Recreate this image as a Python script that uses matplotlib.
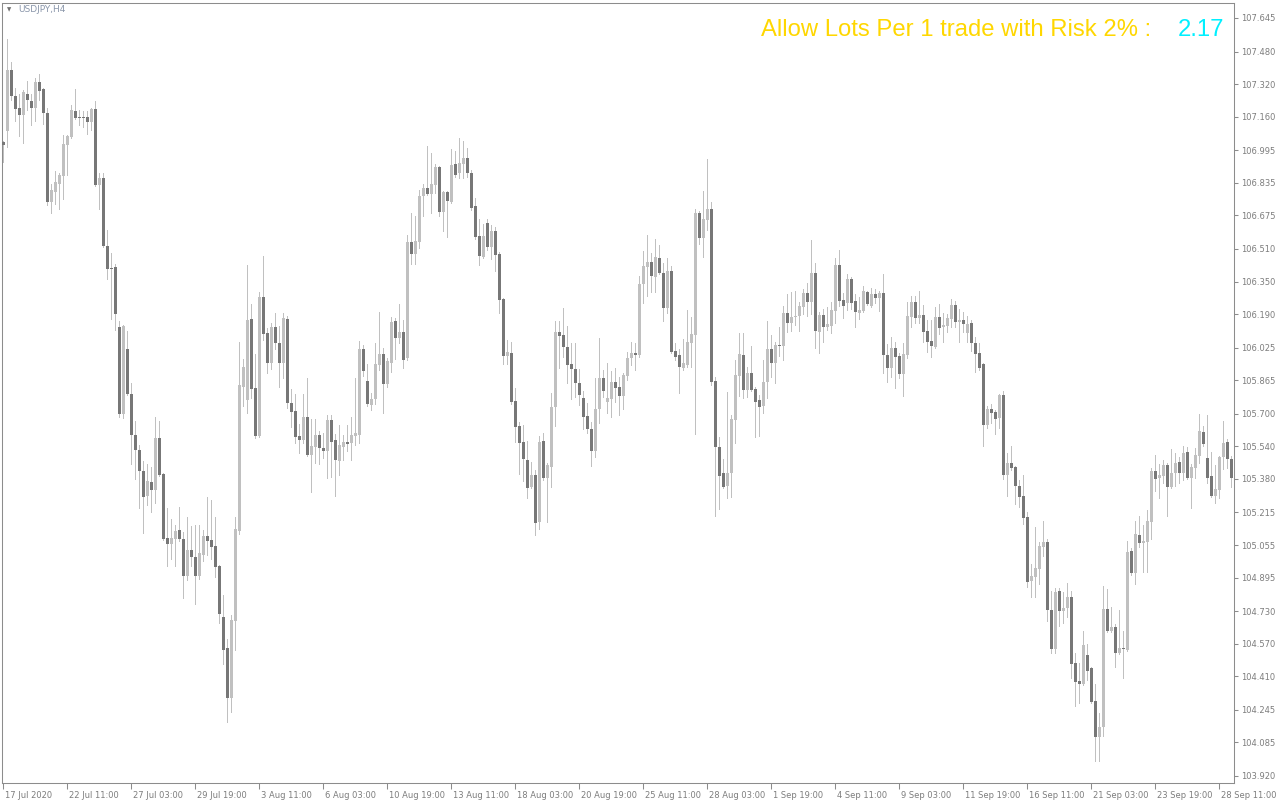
import matplotlib
matplotlib.use("Agg")
import matplotlib.pyplot as plt
import matplotlib.transforms as mtransforms

# USDJPY H4 candles (oldest first)
opens = [
    107.036, 107.090, 107.390, 107.262, 107.203, 107.168, 107.272, 107.237, 107.203, 107.330,
    107.296, 107.178, 106.741, 106.790, 106.829, 106.869, 107.021, 107.061, 107.188, 107.159,
    107.159, 107.159, 107.134, 107.198, 106.824, 106.859, 106.525, 106.417, 106.422, 106.126,
    105.699, 106.019, 105.797, 105.596, 105.522, 105.419, 105.296, 105.365, 105.326, 105.581,
    105.404, 105.090, 105.061, 105.085, 105.129, 105.085, 104.903, 105.031, 104.996, 104.903,
    105.006, 105.100, 105.080, 105.050, 104.952, 104.701, 104.549, 104.304, 104.682, 105.124,
    105.831, 105.768, 106.166, 105.827, 105.591, 106.274, 106.097, 105.950, 106.126, 106.048,
    105.950, 106.166, 105.753, 105.714, 105.591, 105.571, 105.684, 105.498, 105.537, 105.596,
    105.532, 105.517, 105.670, 105.571, 105.468, 105.537, 105.562, 105.557, 105.591, 105.596,
    106.019, 105.861, 105.743, 105.773, 105.940, 105.994, 105.846, 105.950, 106.156, 106.073,
    106.102, 105.974, 106.544, 106.485, 106.544, 106.770, 106.810, 106.780, 106.824, 106.913,
    106.692, 106.790, 106.741, 106.928, 106.883, 106.928, 106.957, 106.883, 106.721, 106.574,
    106.471, 106.638, 106.520, 106.598, 106.485, 106.264, 105.984, 105.999, 105.763, 105.640,
    105.562, 105.473, 105.340, 105.399, 105.168, 105.567, 105.385, 105.439, 105.733, 106.102,
    106.087, 106.029, 105.945, 105.920, 105.851, 105.778, 105.689, 105.625, 105.517, 105.724,
    105.876, 105.758, 105.773, 105.856, 105.831, 105.787, 105.886, 105.974, 105.999, 105.989,
    106.338, 106.421, 106.446, 106.372, 106.466, 106.392, 106.220, 106.402, 106.009, 105.989,
    105.925, 105.940, 106.048, 106.087, 106.687, 106.564, 106.652, 106.707, 105.861, 105.537,
    105.409, 105.345, 105.409, 105.670, 105.886, 105.989, 105.817, 105.900, 105.822, 105.768,
    105.738, 105.856, 106.019, 105.950, 106.038, 106.033, 106.195, 106.146, 106.176, 106.181,
    106.225, 106.294, 106.249, 106.392, 106.102, 106.186, 106.126, 106.131, 106.205, 106.431,
    106.259, 106.244, 106.362, 106.254, 106.195, 106.205, 106.299, 106.230, 106.289, 106.269,
    106.294, 105.989, 105.925, 106.024, 105.984, 105.896, 105.989, 106.176, 106.249, 106.171,
    106.186, 106.107, 106.058, 106.029, 106.176, 106.126, 106.131, 106.166, 106.235, 106.151,
    106.161, 106.097, 106.146, 106.048, 105.999, 105.945, 105.645, 105.724, 105.709, 105.680,
    105.792, 105.399, 105.458, 105.439, 105.345, 105.296, 105.193, 104.878, 104.898, 104.938,
    105.045, 105.070, 104.736, 104.544, 104.829, 104.731, 104.746, 104.800, 104.476, 104.387,
    104.372, 104.515, 104.451, 104.289, 104.112, 104.161, 104.741, 104.633, 104.652, 104.525,
    104.549, 104.539, 105.026, 104.918, 105.104, 105.065, 105.070, 105.168, 105.419, 105.385,
    105.394, 105.449, 105.340, 105.409, 105.463, 105.409, 105.512, 105.385, 105.434, 105.493,
    105.611, 105.483, 105.394, 105.296, 105.326, 105.488, 105.562, 105.478,
]
highs = [
    107.041, 107.542, 107.429, 107.301, 107.272, 107.291, 107.335, 107.272, 107.350, 107.370,
    107.301, 107.203, 106.829, 106.893, 106.883, 107.070, 107.070, 107.217, 107.296, 107.193,
    107.188, 107.188, 107.203, 107.237, 106.883, 106.883, 106.603, 106.490, 106.436, 106.156,
    106.136, 106.107, 105.851, 105.665, 105.547, 105.468, 105.453, 105.439, 105.684, 105.665,
    105.409, 105.237, 105.183, 105.154, 105.242, 105.119, 105.193, 105.149, 105.154, 105.154,
    105.129, 105.291, 105.277, 105.193, 104.957, 104.810, 104.593, 104.712, 105.193, 106.053,
    105.969, 106.431, 106.240, 105.994, 106.299, 106.475, 106.122, 106.146, 106.195, 106.131,
    106.195, 106.181, 105.822, 105.797, 105.650, 105.797, 105.876, 105.675, 105.675, 105.616,
    105.606, 105.694, 105.694, 105.601, 105.645, 105.596, 105.645, 105.684, 105.876, 106.058,
    106.038, 105.945, 105.802, 106.048, 106.200, 106.024, 105.974, 106.176, 106.171, 106.240,
    106.161, 106.579, 106.687, 106.672, 106.800, 106.829, 107.016, 106.982, 106.928, 106.918,
    106.795, 106.795, 107.001, 106.991, 107.056, 107.041, 107.006, 106.898, 106.761, 106.657,
    106.633, 106.657, 106.628, 106.618, 106.495, 106.269, 106.063, 106.053, 105.827, 105.660,
    105.645, 105.567, 105.463, 105.424, 105.591, 105.606, 105.458, 105.802, 106.156, 106.156,
    106.220, 106.131, 106.048, 106.048, 105.920, 105.812, 105.753, 105.660, 105.876, 106.073,
    105.915, 105.950, 105.910, 105.925, 105.881, 105.900, 106.004, 106.053, 106.048, 106.377,
    106.500, 106.579, 106.490, 106.559, 106.530, 106.441, 106.466, 106.426, 106.048, 106.019,
    106.068, 106.210, 106.176, 106.707, 106.697, 106.795, 106.952, 106.741, 105.881, 105.586,
    105.478, 105.807, 105.694, 105.964, 106.097, 106.097, 105.930, 106.033, 105.831, 105.792,
    105.964, 106.156, 106.087, 106.053, 106.126, 106.230, 106.289, 106.299, 106.304, 106.249,
    106.313, 106.343, 106.554, 106.441, 106.200, 106.215, 106.225, 106.249, 106.466, 106.505,
    106.294, 106.387, 106.372, 106.289, 106.274, 106.328, 106.304, 106.318, 106.313, 106.304,
    106.387, 106.043, 106.077, 106.053, 105.999, 106.048, 106.249, 106.279, 106.279, 106.304,
    106.235, 106.161, 106.161, 106.225, 106.240, 106.195, 106.191, 106.264, 106.254, 106.215,
    106.200, 106.181, 106.161, 106.077, 106.048, 105.950, 105.738, 105.748, 105.719, 105.797,
    105.812, 105.508, 105.542, 105.444, 105.375, 105.399, 105.218, 104.962, 105.144, 105.070,
    105.173, 105.085, 104.829, 104.844, 104.844, 104.824, 104.869, 104.829, 104.525, 104.476,
    104.633, 104.569, 104.456, 104.372, 104.230, 104.854, 104.839, 104.751, 104.667, 104.736,
    104.633, 105.075, 105.040, 105.173, 105.198, 105.154, 105.227, 105.434, 105.498, 105.453,
    105.473, 105.458, 105.527, 105.508, 105.488, 105.542, 105.537, 105.453, 105.532, 105.699,
    105.640, 105.694, 105.512, 105.449, 105.493, 105.665, 105.576, 105.493,
]
lows = [
    106.937, 107.011, 107.242, 107.139, 107.066, 107.031, 107.193, 107.119, 107.139, 107.242,
    107.124, 106.726, 106.687, 106.731, 106.707, 106.756, 106.874, 107.056, 107.149, 107.119,
    107.110, 107.075, 107.095, 106.819, 106.707, 106.520, 106.362, 106.166, 106.112, 105.684,
    105.680, 105.792, 105.453, 105.380, 105.237, 105.114, 105.252, 105.218, 105.262, 105.394,
    105.080, 104.953, 104.987, 104.953, 105.075, 104.795, 104.883, 104.953, 104.765, 104.888,
    104.977, 105.006, 104.987, 104.898, 104.672, 104.471, 104.186, 104.235, 104.539, 105.110,
    105.738, 105.704, 105.778, 105.581, 105.586, 106.063, 105.900, 105.920, 106.019, 105.831,
    105.876, 105.729, 105.635, 105.557, 105.508, 105.557, 105.493, 105.316, 105.458, 105.453,
    105.483, 105.385, 105.390, 105.296, 105.399, 105.473, 105.517, 105.473, 105.547, 105.557,
    105.886, 105.738, 105.719, 105.748, 105.915, 105.704, 105.831, 105.905, 105.969, 106.048,
    105.925, 105.964, 106.436, 106.436, 106.515, 106.672, 106.775, 106.687, 106.785, 106.672,
    106.598, 106.569, 106.736, 106.864, 106.859, 106.859, 106.864, 106.702, 106.559, 106.431,
    106.466, 106.505, 106.461, 106.402, 106.195, 105.945, 105.945, 105.748, 105.562, 105.404,
    105.370, 105.286, 105.335, 105.104, 105.134, 105.375, 105.168, 105.340, 105.640, 105.925,
    105.979, 105.851, 105.773, 105.782, 105.743, 105.625, 105.606, 105.444, 105.488, 105.655,
    105.782, 105.704, 105.684, 105.758, 105.694, 105.724, 105.866, 105.940, 105.915, 105.979,
    106.244, 106.279, 106.299, 106.299, 106.387, 106.156, 106.195, 105.999, 105.964, 105.802,
    105.915, 105.930, 105.930, 105.601, 106.534, 106.471, 106.603, 105.841, 105.198, 105.232,
    105.335, 105.286, 105.291, 105.557, 105.787, 105.778, 105.782, 105.812, 105.586, 105.591,
    105.704, 105.778, 105.881, 105.851, 105.984, 105.964, 106.102, 106.107, 106.136, 106.107,
    106.191, 106.181, 106.191, 106.024, 105.999, 106.053, 106.112, 106.097, 106.146, 106.230,
    106.171, 106.210, 106.215, 106.126, 106.166, 106.200, 106.235, 106.225, 106.244, 106.205,
    105.900, 105.856, 105.881, 105.827, 105.876, 105.787, 105.974, 106.126, 106.146, 106.146,
    106.053, 106.004, 105.979, 106.024, 106.092, 106.053, 106.102, 106.126, 106.126, 106.053,
    106.102, 106.053, 106.009, 105.905, 105.915, 105.542, 105.630, 105.655, 105.601, 105.630,
    105.380, 105.296, 105.424, 105.257, 105.242, 105.159, 104.849, 104.800, 104.800, 104.864,
    105.001, 104.682, 104.525, 104.525, 104.657, 104.672, 104.701, 104.402, 104.265, 104.279,
    104.367, 104.392, 104.279, 103.994, 103.994, 104.117, 104.628, 104.628, 104.456, 104.520,
    104.402, 104.534, 104.908, 104.864, 105.045, 104.923, 104.923, 105.085, 105.321, 105.286,
    105.360, 105.198, 105.335, 105.345, 105.360, 105.375, 105.380, 105.237, 105.385, 105.458,
    105.542, 105.360, 105.291, 105.262, 105.286, 105.429, 105.434, 105.340,
]
closes = [
    107.021, 107.390, 107.262, 107.198, 107.168, 107.281, 107.242, 107.203, 107.330, 107.286,
    107.178, 106.741, 106.800, 106.839, 106.874, 107.026, 107.066, 107.193, 107.154, 107.154,
    107.154, 107.134, 107.198, 106.824, 106.859, 106.525, 106.412, 106.412, 106.191, 105.699,
    106.131, 105.797, 105.596, 105.522, 105.419, 105.291, 105.370, 105.326, 105.581, 105.399,
    105.085, 105.061, 105.090, 105.124, 105.085, 104.903, 105.031, 104.996, 104.903, 105.016,
    105.100, 105.075, 105.045, 104.947, 104.716, 104.539, 104.304, 104.687, 105.134, 105.841,
    105.929, 106.161, 105.822, 105.591, 106.274, 106.092, 105.950, 106.126, 106.048, 105.950,
    106.171, 105.753, 105.709, 105.586, 105.571, 105.684, 105.498, 105.542, 105.596, 105.532,
    105.517, 105.670, 105.562, 105.473, 105.547, 105.562, 105.552, 105.596, 105.606, 106.019,
    105.910, 105.748, 105.773, 105.945, 105.994, 105.846, 105.959, 106.151, 106.073, 106.102,
    105.964, 106.544, 106.485, 106.549, 106.770, 106.810, 106.780, 106.829, 106.913, 106.692,
    106.790, 106.746, 106.923, 106.874, 106.933, 106.957, 106.883, 106.712, 106.569, 106.475,
    106.574, 106.520, 106.598, 106.480, 106.259, 105.984, 106.004, 105.758, 105.635, 105.557,
    105.478, 105.335, 105.399, 105.164, 105.562, 105.385, 105.449, 105.733, 106.102, 106.082,
    106.029, 105.940, 105.920, 105.851, 105.792, 105.684, 105.625, 105.517, 105.724, 105.876,
    105.812, 105.778, 105.856, 105.827, 105.787, 105.891, 105.974, 105.999, 105.989, 106.338,
    106.426, 106.446, 106.377, 106.471, 106.392, 106.220, 106.402, 106.004, 105.979, 105.929,
    105.950, 106.053, 106.092, 106.687, 106.564, 106.657, 106.707, 105.856, 105.537, 105.394,
    105.340, 105.409, 105.675, 105.891, 105.994, 105.817, 105.900, 105.817, 105.758, 105.733,
    105.856, 106.019, 105.950, 106.038, 106.033, 106.195, 106.146, 106.176, 106.181, 106.230,
    106.294, 106.249, 106.392, 106.107, 106.186, 106.126, 106.141, 106.210, 106.431, 106.254,
    106.230, 106.362, 106.244, 106.200, 106.210, 106.304, 106.240, 106.289, 106.269, 106.294,
    105.989, 105.925, 106.024, 105.979, 105.896, 105.994, 106.181, 106.249, 106.171, 106.186,
    106.102, 106.053, 106.033, 106.176, 106.122, 106.136, 106.171, 106.235, 106.151, 106.161,
    106.141, 106.141, 106.048, 105.994, 105.925, 105.645, 105.724, 105.704, 105.675, 105.792,
    105.399, 105.458, 105.434, 105.345, 105.291, 105.188, 104.873, 104.903, 104.943, 105.050,
    105.070, 104.736, 104.544, 104.824, 104.731, 104.746, 104.800, 104.471, 104.382, 104.372,
    104.564, 104.436, 104.284, 104.112, 104.161, 104.741, 104.633, 104.652, 104.525, 104.549,
    104.544, 105.021, 104.918, 105.110, 105.065, 105.075, 105.173, 105.419, 105.380, 105.399,
    105.449, 105.340, 105.409, 105.458, 105.409, 105.508, 105.385, 105.439, 105.498, 105.616,
    105.552, 105.385, 105.296, 105.330, 105.488, 105.557, 105.478, 105.385,
]

# time axis labels, one every 16 bars
time_labels = ["17 Jul 2020", "22 Jul 11:00", "27 Jul 03:00", "29 Jul 19:00", "3 Aug 11:00",
               "6 Aug 03:00", "10 Aug 19:00", "13 Aug 11:00", "18 Aug 03:00", "20 Aug 19:00",
               "25 Aug 11:00", "28 Aug 03:00", "1 Sep 19:00", "4 Sep 11:00", "9 Sep 03:00",
               "11 Sep 19:00", "16 Sep 11:00", "21 Sep 03:00", "23 Sep 19:00", "28 Sep 11:00"]
label_step = 16

price_ticks = [107.645, 107.480, 107.320, 107.160, 106.995, 106.835, 106.675, 106.510,
               106.350, 106.190, 106.025, 105.865, 105.700, 105.540, 105.380, 105.215,
               105.055, 104.895, 104.730, 104.570, 104.410, 104.245, 104.085, 103.920]

lots = 2.17
risk_pct = 2

up_color = "#c0c0c0"
down_color = "#777777"
frame_color = "#8c8c8c"
text_color = "#7d7d7d"

fig = plt.figure(figsize=(12.8, 8), dpi=100)
fig.patch.set_facecolor("white")
ax = fig.add_axes([2 / 1280, 17 / 800, 1232 / 1280, 780 / 800])

idx = list(range(len(closes)))

# wicks, 1 px
ax.vlines(idx, lows, highs, color=up_color, linewidth=0.5, antialiased=False)

# bodies, 3 px
bottoms = [min(o, c) for o, c in zip(opens, closes)]
heights = [max(abs(c - o), 0.004) for o, c in zip(opens, closes)]
colors = [up_color if c >= o else down_color for o, c in zip(opens, closes)]
ax.bar(idx, heights, bottom=bottoms, width=0.7, color=colors, linewidth=0,
       antialiased=False, zorder=3)

ax.set_xlim(-0.325, 307.675)
ax.set_ylim(103.8856, 107.7187)

# price axis on the right
ax.yaxis.tick_right()
ax.set_yticks(price_ticks)
ax.set_yticklabels(["%.3f" % v for v in price_ticks])
ax.tick_params(axis="y", direction="out", length=3, width=0.75, color=frame_color,
               labelsize=6, labelcolor=text_color, pad=2)

# time axis
tick_pos = [i * label_step for i in range(len(time_labels))]
ax.set_xticks(tick_pos)
ax.set_xticklabels(time_labels)
ax.tick_params(axis="x", direction="out", length=4, width=0.75, color=frame_color,
               labelsize=6, labelcolor=text_color, pad=1.5)
shift = mtransforms.ScaledTranslation(2 / 100, 0, fig.dpi_scale_trans)
for lbl in ax.get_xticklabels():
    lbl.set_horizontalalignment("left")
    lbl.set_transform(lbl.get_transform() + shift)

for s in ax.spines.values():
    s.set_color(frame_color)
    s.set_linewidth(0.75)

# symbol caption top-left
fig.text(9 / 1280, 1 - 10 / 800, "\u25bc", fontsize=4, color="#707070", va="center", ha="center")
fig.text(18 / 1280, 1 - 10 / 800, "USDJPY,H4", fontsize=6.5, color="#8a96aa", va="center")

# lot size message
fig.text(761 / 1280, 1 - 36 / 800, "Allow Lots Per 1 trade with Risk %d%% :" % risk_pct,
         fontsize=17.2, family="Liberation Sans", color="#ffd700", va="baseline", ha="left")
fig.text(1224 / 1280, 1 - 36 / 800, "%.2f" % lots,
         fontsize=17.2, family="Liberation Sans", color="#00f0ff", va="baseline", ha="right")

fig.savefig("out.png", dpi=100, facecolor="white")
